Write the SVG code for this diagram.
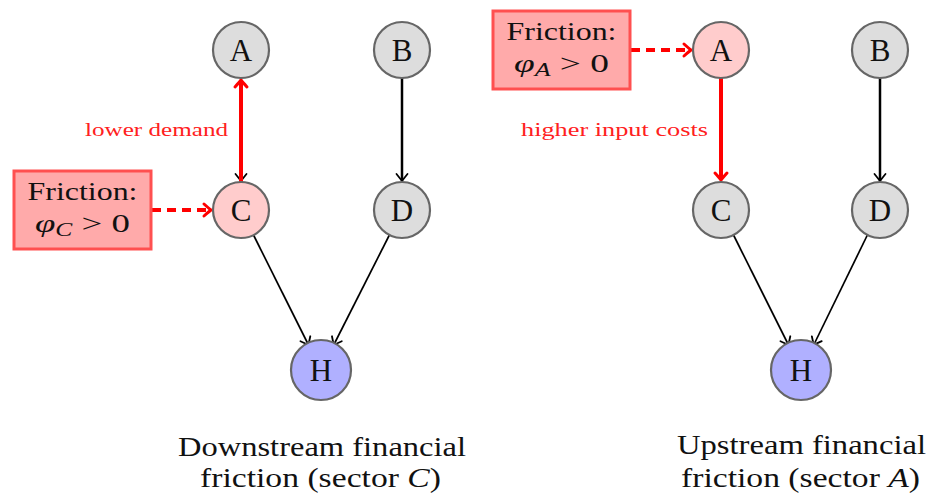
<svg xmlns="http://www.w3.org/2000/svg" width="930" height="495" viewBox="0 0 930 495">
<style>
text{font-family:"Liberation Serif","DejaVu Serif",serif;}
.node circle{stroke:#666;stroke-width:2.2;}
.gray{fill:#dddddd;}
.pink{fill:#ffcccc;}
.blue{fill:#b0b0ff;}
.lbl{font-size:31px;text-anchor:middle;fill:#111;}
.box rect{fill:#ffaaaa;stroke:#ff5050;stroke-width:3;}
.boxt{font-size:26px;text-anchor:middle;fill:#111;}
.red{font-size:19px;fill:#ff2020;text-anchor:middle;}
.cap{font-size:28px;text-anchor:middle;fill:#111;}
.blk{stroke:#000;fill:none;}
.rd{stroke:#ff0000;fill:none;}
</style>
<defs>
<marker id="ab" markerUnits="userSpaceOnUse" markerWidth="20" markerHeight="20" viewBox="-10 -10 20 20" refX="0" refY="0" orient="auto">
<path d="M-7,-5.5 Q-2,-1.5 0,0 Q-2,1.5 -7,5.5" stroke="#000" stroke-width="1.8" fill="none" stroke-linecap="round"/>
</marker>
<marker id="ar" markerUnits="userSpaceOnUse" markerWidth="20" markerHeight="20" viewBox="-10 -10 20 20" refX="0" refY="0" orient="auto">
<path d="M-7,-6 Q-2,-1.5 0,0 Q-2,1.5 -7,6" stroke="#ff0000" stroke-width="3" fill="none" stroke-linecap="round"/>
</marker>
</defs>

<g id="connectors">
<!-- left -->
<line class="blk" x1="241" y1="78" x2="241" y2="181" stroke-width="1.5" marker-end="url(#ab)"/>
<line class="rd" x1="241" y1="182" x2="241" y2="80" stroke-width="4" marker-end="url(#ar)"/>
<line class="blk" x1="402" y1="78" x2="402" y2="181" stroke-width="2.5" marker-end="url(#ab)"/>
<line class="blk" x1="253.5" y1="235" x2="308.5" y2="345" stroke-width="1.7" marker-end="url(#ab)"/>
<line class="blk" x1="389.4" y1="235" x2="333.7" y2="345" stroke-width="1.7" marker-end="url(#ab)"/>
<line class="rd" x1="152" y1="210" x2="211" y2="210" stroke-width="4" stroke-dasharray="9,6" marker-end="url(#ar)"/>
<!-- right -->
<line class="rd" x1="721" y1="78" x2="721" y2="180" stroke-width="4" marker-end="url(#ar)"/>
<line class="blk" x1="880" y1="78" x2="880" y2="181" stroke-width="2.5" marker-end="url(#ab)"/>
<line class="blk" x1="733.5" y1="235" x2="788.5" y2="345" stroke-width="1.7" marker-end="url(#ab)"/>
<line class="blk" x1="867.4" y1="235" x2="813.7" y2="345" stroke-width="1.7" marker-end="url(#ab)"/>
<line class="rd" x1="631" y1="50" x2="691" y2="50" stroke-width="4" stroke-dasharray="9,6" marker-end="url(#ar)"/>
<text class="red" x="156.5" y="136" textLength="143" lengthAdjust="spacingAndGlyphs">lower demand</text>
<text class="red" x="614.5" y="136" textLength="187" lengthAdjust="spacingAndGlyphs">higher input costs</text>
</g>

<g id="L_A" class="node"><circle class="gray" cx="241" cy="50" r="28"/><text class="lbl" x="241" y="61">A</text></g>
<g id="L_B" class="node"><circle class="gray" cx="402" cy="50" r="28"/><text class="lbl" x="402" y="61">B</text></g>
<g id="L_C" class="node"><circle class="pink" cx="241" cy="210" r="28"/><text class="lbl" x="241" y="221">C</text></g>
<g id="L_D" class="node"><circle class="gray" cx="402" cy="210" r="28"/><text class="lbl" x="402" y="221">D</text></g>
<g id="L_H" class="node"><circle class="blue" cx="321" cy="370" r="30"/><text class="lbl" x="321" y="381">H</text></g>
<g id="L_F" class="box"><rect x="14" y="171" width="137" height="78"/>
<text class="boxt" x="82.5" y="200" textLength="110" lengthAdjust="spacingAndGlyphs">Friction:</text>
<text class="boxt" x="82.5" y="232" textLength="95" lengthAdjust="spacingAndGlyphs"><tspan font-style="italic">φ</tspan><tspan font-style="italic" font-size="18" dy="4">C</tspan><tspan dy="-4"> &gt; 0</tspan></text></g>

<g id="R_A" class="node"><circle class="pink" cx="721" cy="50" r="28"/><text class="lbl" x="721" y="61">A</text></g>
<g id="R_B" class="node"><circle class="gray" cx="880" cy="50" r="28"/><text class="lbl" x="880" y="61">B</text></g>
<g id="R_C" class="node"><circle class="gray" cx="721" cy="210" r="28"/><text class="lbl" x="721" y="221">C</text></g>
<g id="R_D" class="node"><circle class="gray" cx="880" cy="210" r="28"/><text class="lbl" x="880" y="221">D</text></g>
<g id="R_H" class="node"><circle class="blue" cx="801" cy="370" r="30"/><text class="lbl" x="801" y="381">H</text></g>
<g id="R_F" class="box"><rect x="493" y="11" width="137" height="78"/>
<text class="boxt" x="561.5" y="40" textLength="110" lengthAdjust="spacingAndGlyphs">Friction:</text>
<text class="boxt" x="561.5" y="72" textLength="95" lengthAdjust="spacingAndGlyphs"><tspan font-style="italic">φ</tspan><tspan font-style="italic" font-size="18" dy="4">A</tspan><tspan dy="-4"> &gt; 0</tspan></text></g>

<g id="captions">
<text class="cap" x="322" y="456" textLength="288" lengthAdjust="spacingAndGlyphs">Downstream financial</text>
<text class="cap" x="320.5" y="487" textLength="241" lengthAdjust="spacingAndGlyphs">friction (sector <tspan font-style="italic">C</tspan>)</text>
<text class="cap" x="801.5" y="454" textLength="249" lengthAdjust="spacingAndGlyphs">Upstream financial</text>
<text class="cap" x="800.5" y="487" textLength="239" lengthAdjust="spacingAndGlyphs">friction (sector <tspan font-style="italic">A</tspan>)</text>
</g>
</svg>
